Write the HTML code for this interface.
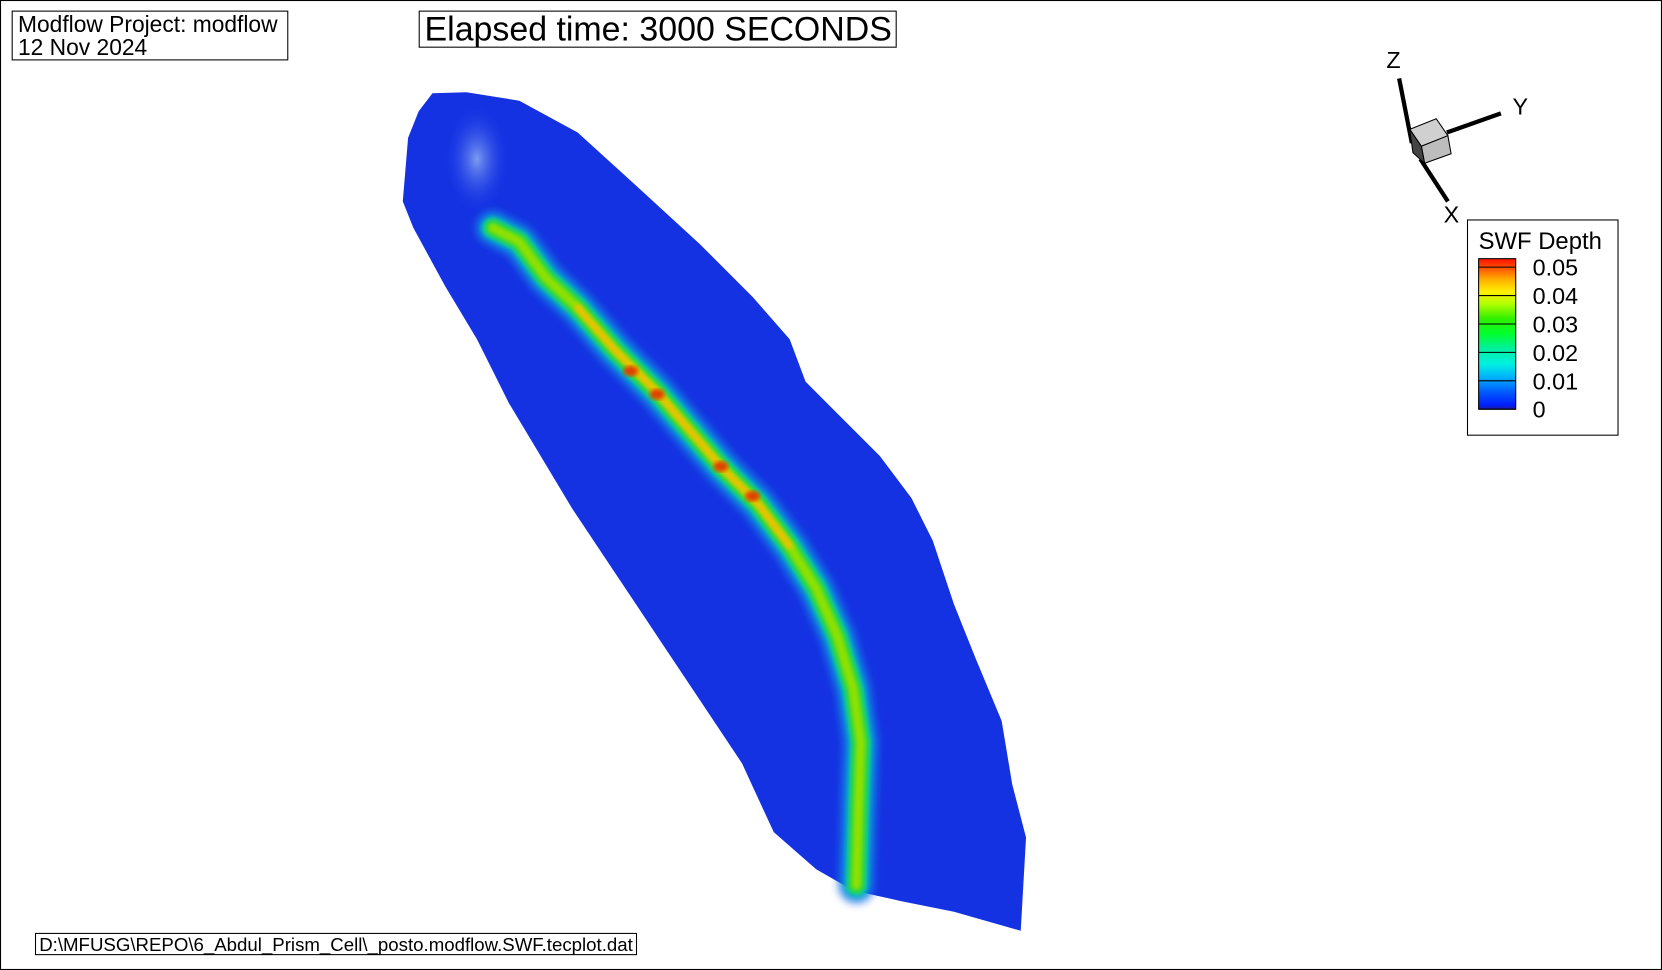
<!DOCTYPE html>
<html><head><meta charset="utf-8"><style>
html,body{margin:0;padding:0;background:#fff;}
svg{display:block;font-family:"Liberation Sans",Arial,sans-serif;}
</style></head><body>
<svg id="plot" width="1662" height="970" viewBox="0 0 1568 915" preserveAspectRatio="none">
<defs>
<linearGradient id="cbar" x1="0" y1="1" x2="0" y2="0">
<stop offset="0" stop-color="#1a1aa0"/><stop offset="0.03" stop-color="#0020ff"/>
<stop offset="0.12" stop-color="#0060ff"/><stop offset="0.2" stop-color="#00a8ff"/>
<stop offset="0.3" stop-color="#00f0e0"/><stop offset="0.4" stop-color="#00f0a0"/>
<stop offset="0.5" stop-color="#00ff30"/><stop offset="0.6" stop-color="#30f000"/>
<stop offset="0.7" stop-color="#b0ff00"/><stop offset="0.78" stop-color="#fff000"/>
<stop offset="0.86" stop-color="#ffb000"/><stop offset="0.94" stop-color="#ff5000"/>
<stop offset="1" stop-color="#ff1000"/></linearGradient>
<radialGradient id="patch" cx="0.5" cy="0.5" r="0.5">
<stop offset="0" stop-color="#7d9cf0"/><stop offset="1" stop-color="#1a3ce8" stop-opacity="0"/></radialGradient>
<filter id="blur"><feGaussianBlur stdDeviation="4"/></filter>
<filter id="blur2"><feGaussianBlur stdDeviation="2"/></filter>
</defs>
<rect x="0.5" y="0.5" width="1567" height="914" fill="#fff" stroke="#000"/>
<g>
<rect x="11.5" y="10.5" width="260" height="46" fill="#fff" stroke="#000"/>
<text x="17" y="30" font-size="21.5">Modflow Project: modflow</text>
<text x="17" y="52" font-size="21.5">12 Nov 2024</text></g>
<g>
<rect x="395.5" y="10.5" width="450" height="34" fill="#fff" stroke="#000"/>
<text x="621" y="38" font-size="32" text-anchor="middle">Elapsed time: 3000 SECONDS</text></g>
<polygon fill="#1532e2" points="408,88 440,87 490,95 545,125 600,175 660,230 710,280 745,320 760,360 790,390 830,430 860,470 880,510 900,570 920,620 945,680 955,740 968,790 963,878 900,860 850,850 805,840 770,820 730,785 700,720 660,660 620,600 580,540 540,480 510,430 480,380 450,320 420,270 390,215 380,190 385,130 395,105"/>
<ellipse cx="450" cy="150" rx="30" ry="50" fill="url(#patch)"/>
<g id="stream" fill="none" stroke-linecap="round" stroke-linejoin="round"></g>
<g stroke="#000" stroke-width="4">
<line x1="1320" y1="74" x2="1332" y2="135"/><line x1="1365" y1="125" x2="1416" y2="107"/><line x1="1340" y1="150" x2="1366" y2="190"/>
<polygon points="1330,122 1355,112 1366,128 1341,138" fill="#d0d0d0" stroke-width="1"/>
<polygon points="1341,138 1366,128 1369,145 1344,154" fill="#bdbdbd" stroke-width="1"/>
<polygon points="1330,122 1341,138 1344,154 1333,144" fill="#444" stroke-width="1"/>
<g stroke="none" font-size="22"><text x="1308" y="64">Z</text><text x="1427" y="108">Y</text><text x="1362" y="210">X</text></g></g>
<g id="legend">
<rect x="1384.5" y="207.5" width="142" height="203" fill="#fff" stroke="#000"/>
<text x="1395" y="235" font-size="22.5">SWF Depth</text>
<rect x="1395" y="244" width="35" height="142" fill="url(#cbar)" stroke="#000"/>
</g>
<g>
<rect x="33.5" y="880.5" width="567" height="20" fill="#fff" stroke="#000"/>
<text x="37" y="897" font-size="17.6">D:\MFUSG\REPO\6_Abdul_Prism_Cell\_posto.modflow.SWF.tecplot.dat</text></g>
</svg>
<script>
const legendTicks=["0.05","0.04","0.03","0.02","0.01","0"];
const legendValues=[0.05,0.04,0.03,0.02,0.01,0];
const streamX=[465,490,515,545,580,620,650,680,715,745,770,790,805,812,810,808];
const streamY=[215,228,262,290,330,370,405,440,475,515,555,600,650,700,760,835];
const NS="http://www.w3.org/2000/svg";
const leg=document.getElementById('legend');
function yLeg(v){return 386-(v/0.05)*134;}
legendValues.forEach((v,i)=>{
 const l=document.createElementNS(NS,'line');
 l.setAttribute('x1',1395);l.setAttribute('x2',1430);l.setAttribute('y1',yLeg(v));l.setAttribute('y2',yLeg(v));l.setAttribute('stroke','#000');
 
 
 leg.appendChild(l);
 const t=document.createElementNS(NS,'text');
 t.setAttribute('x',1446);t.setAttribute('y',yLeg(v)+8);t.setAttribute('font-size','22');t.textContent=legendTicks[i];
 
 
 leg.appendChild(t);
});
const pts=streamX.map((x,i)=>x+','+streamY[i]).join(' ');
const g=document.getElementById('stream');
const layers=[[34,'#1a60e8',0.7,'blur'],[26,'#00b0d8',0.85,'blur'],[20,'#10c8a0',1,'blur2'],[15,'#20d840',1,'blur2'],[9,'#90e000',1,'blur2']];
layers.forEach(L=>{
 const p=document.createElementNS(NS,'polyline');
 p.setAttribute('points',pts);p.setAttribute('stroke',L[1]);p.setAttribute('stroke-width',L[0]);p.setAttribute('opacity',L[2]);p.setAttribute('filter','url(#'+L[3]+')');
 
 
 g.appendChild(p);
});
const core=streamX.slice(3,10).map((x,i)=>x+','+streamY[i+3]).join(' ');
const c=document.createElementNS(NS,'polyline');
c.setAttribute('points',core);c.setAttribute('stroke','#f0c000');c.setAttribute('stroke-width',6);c.setAttribute('filter','url(#blur2)');


g.appendChild(c);
[[595,350],[680,440],[710,468],[620,372]].forEach(q=>{
 const e=document.createElementNS(NS,'ellipse');
 e.setAttribute('cx',q[0]);e.setAttribute('cy',q[1]);e.setAttribute('rx',7);e.setAttribute('ry',5);e.setAttribute('fill','#e04000');e.setAttribute('filter','url(#blur2)');
 
 
 g.appendChild(e);
});
</script>
</body></html>
